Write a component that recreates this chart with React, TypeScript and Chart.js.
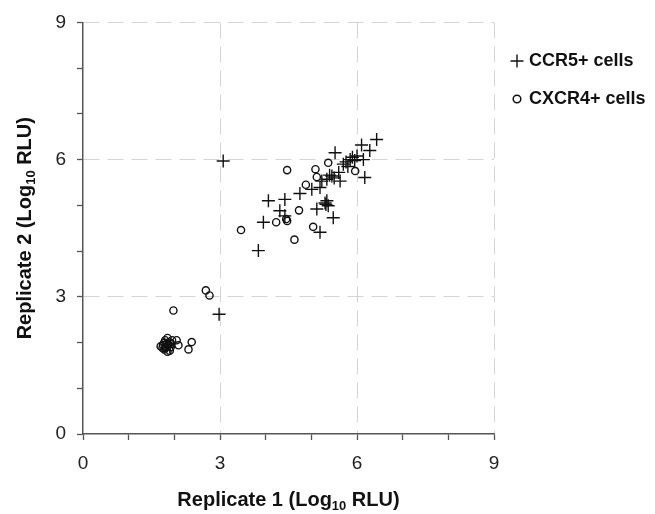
import React, { useEffect, useRef } from 'react';
import { Chart, registerables } from 'chart.js';

Chart.register(...registerables);

// ---- data ----
const seriesNames = ['CCR5+ cells', 'CXCR4+ cells'];

const ccr5X = [3.07, 2.98, 3.84, 3.95, 4.06, 4.31, 4.42, 4.42, 4.75, 5.01, 5.19, 5.12, 5.19, 5.34, 5.37, 5.30, 5.32, 5.48, 5.23, 5.34, 5.45, 5.50, 5.63, 5.70, 5.52, 5.76, 5.85, 5.90, 5.95, 6.00, 6.14, 6.17, 6.10, 6.28, 6.43, 5.60, 5.80, 5.40, 1.85, 1.90];
const ccr5Y = [5.97, 2.62, 4.01, 4.63, 5.10, 4.88, 4.77, 5.13, 5.26, 5.35, 5.39, 4.92, 4.41, 5.10, 4.99, 5.05, 5.02, 4.73, 5.53, 5.57, 5.64, 5.60, 5.53, 5.90, 6.15, 5.95, 6.00, 6.05, 5.98, 6.08, 6.00, 5.61, 6.32, 6.20, 6.44, 5.72, 5.85, 5.66, 1.95, 1.90];

const cxcr4X = [3.46, 4.23, 4.45, 4.47, 4.63, 4.73, 5.04, 4.47, 4.88, 5.09, 5.12, 5.37, 5.96, 2.69, 2.77, 1.98, 2.05, 2.09, 2.38, 2.31, 1.75, 1.80, 1.85, 1.90, 1.78, 1.85, 1.92, 1.95, 1.70, 1.88, 1.82, 1.90, 1.78, 1.84, 1.80, 1.74, 1.93];
const cxcr4Y = [4.46, 4.63, 4.70, 4.66, 4.25, 4.89, 4.53, 5.77, 5.45, 5.79, 5.62, 5.93, 5.75, 3.14, 3.03, 2.70, 2.05, 1.94, 2.01, 1.85, 1.95, 2.05, 2.10, 2.00, 1.85, 1.80, 1.90, 2.05, 1.92, 1.95, 1.90, 1.82, 2.00, 1.97, 1.88, 1.88, 1.97];

const tickLabels = [0, 3, 6, 9];
const xTitleParts = ['Replicate 1 (Log', '10', ' RLU)'];
const yTitleParts = ['Replicate 2 (Log', '10', ' RLU)'];

const FONT = '"Liberation Sans", Arial, Helvetica, sans-serif';
const INK = '#111111';

function drawTitle(ctx: CanvasRenderingContext2D, parts: string[], x: number, y: number, rot: number) {
  const big = `bold 20px ${FONT}`;
  const small = `bold 13px ${FONT}`;
  ctx.save();
  ctx.translate(x, y);
  ctx.rotate(rot);
  ctx.fillStyle = INK;
  ctx.textBaseline = 'alphabetic';
  ctx.textAlign = 'left';
  ctx.font = big;
  const w0 = ctx.measureText(parts[0]).width;
  const w2 = ctx.measureText(parts[2]).width;
  ctx.font = small;
  const w1 = ctx.measureText(parts[1]).width;
  let cx = -(w0 + w1 + w2) / 2;
  const base = 7;
  ctx.font = big;
  ctx.fillText(parts[0], cx, base);
  cx += w0;
  ctx.font = small;
  ctx.fillText(parts[1], cx, base + 4);
  cx += w1;
  ctx.font = big;
  ctx.fillText(parts[2], cx, base);
  ctx.restore();
}

const axisTitlePlugin = {
  id: 'axisTitlesSub',
  afterDraw(chart: any) {
    const { ctx, chartArea } = chart;
    const cx = (chartArea.left + chartArea.right) / 2;
    const cy = (chartArea.top + chartArea.bottom) / 2;
    drawTitle(ctx, xTitleParts, cx, 499, 0);
    drawTitle(ctx, yTitleParts, 24, cy, -Math.PI / 2);
  },
};

const legendWidthPlugin = {
  id: 'legendWidthFix',
  beforeLayout(chart: any) {
    const lg = chart.legend;
    if (lg && !lg.__patched) {
      const orig = lg.fit.bind(lg);
      lg.fit = function () {
        orig();
        this.width = 161;
      };
      lg.__patched = true;
    }
  },
};

function smallCircleImage(): HTMLCanvasElement {
  const c = document.createElement('canvas');
  c.width = 12;
  c.height = 12;
  const g = c.getContext('2d')!;
  g.strokeStyle = INK;
  g.lineWidth = 1.5;
  g.beginPath();
  g.arc(6, 6, 3.8, 0, Math.PI * 2);
  g.stroke();
  return c;
}

const isMajor = (v: number) => v > 0 && v % 3 === 0;

export default function App() {
  const ref = useRef<HTMLCanvasElement | null>(null);

  useEffect(() => {
    document.body.style.margin = '0';
    if (!ref.current) return;
    const gridColor = (c: any) => (c.tick && isMajor(c.tick.value) ? '#d4d4d4' : 'rgba(0,0,0,0)');
    const tickCb = (v: any) => (tickLabels.includes(Number(v)) ? String(v) : '');
    const circleImg = smallCircleImage();

    const chart = new Chart(ref.current, {
      type: 'scatter',
      data: {
        datasets: [
          {
            label: seriesNames[0],
            data: ccr5X.map((x, i) => ({ x, y: ccr5Y[i] })),
            pointStyle: 'cross',
            pointRadius: 6.5,
            pointHoverRadius: 6.5,
            borderColor: INK,
            backgroundColor: 'rgba(0,0,0,0)',
            borderWidth: 1.4,
          },
          {
            label: seriesNames[1],
            data: cxcr4X.map((x, i) => ({ x, y: cxcr4Y[i] })),
            pointStyle: 'circle',
            pointRadius: 3.6,
            pointHoverRadius: 3.6,
            borderColor: INK,
            backgroundColor: 'rgba(0,0,0,0)',
            borderWidth: 1.4,
          },
        ],
      },
      options: {
        responsive: false,
        animation: false,
        layout: { padding: { top: 21, left: 0, right: 0, bottom: 0 } },
        scales: {
          x: {
            type: 'linear',
            min: 0,
            max: 9,
            ticks: {
              stepSize: 1,
              autoSkip: false,
              maxRotation: 0,
              callback: tickCb,
              color: '#222',
              font: { size: 19, family: FONT },
              padding: 12,
            },
            grid: {
              color: gridColor,
              lineWidth: 1,
              tickColor: '#555',
              tickLength: 6,
              tickWidth: 1.3,
              tickBorderDash: [],
            },
            border: { color: '#555', width: 1.5, dash: [16, 8] },
            afterFit: (s: any) => {
              s.height = 80;
            },
          },
          y: {
            type: 'linear',
            min: 0,
            max: 9,
            ticks: {
              stepSize: 1,
              autoSkip: false,
              callback: tickCb,
              color: '#222',
              font: { size: 19, family: FONT },
              padding: 11,
            },
            grid: {
              color: gridColor,
              lineWidth: 1,
              tickColor: '#555',
              tickLength: 6,
              tickWidth: 1.3,
              tickBorderDash: [],
            },
            border: { color: '#555', width: 1.5, dash: [16, 8] },
            afterFit: (s: any) => {
              s.width = 83;
            },
          },
        },
        plugins: {
          tooltip: { enabled: false },
          legend: {
            position: 'right',
            align: 'start',
            title: { display: true, text: '', font: { size: 10, lineHeight: 1.1 }, padding: 0 },
            labels: {
              usePointStyle: true,
              boxWidth: 6,
              boxHeight: 9.2,
              padding: 20,
              color: INK,
              font: { size: 18, weight: 'bold', family: FONT },
              generateLabels: (ch: any) => {
                const items = Chart.defaults.plugins.legend.labels.generateLabels(ch);
                return items.map((it: any) =>
                  it.datasetIndex === 1 ? { ...it, pointStyle: circleImg } : { ...it, lineWidth: 1.4 }
                );
              },
            },
          },
        },
      },
      plugins: [legendWidthPlugin, axisTitlePlugin],
    } as any);
    return () => chart.destroy();
  }, []);

  return (
    <div style={{ width: 655, height: 514 }}>
      <canvas ref={ref} width={655} height={514} style={{ display: 'block' }} />
    </div>
  );
}
